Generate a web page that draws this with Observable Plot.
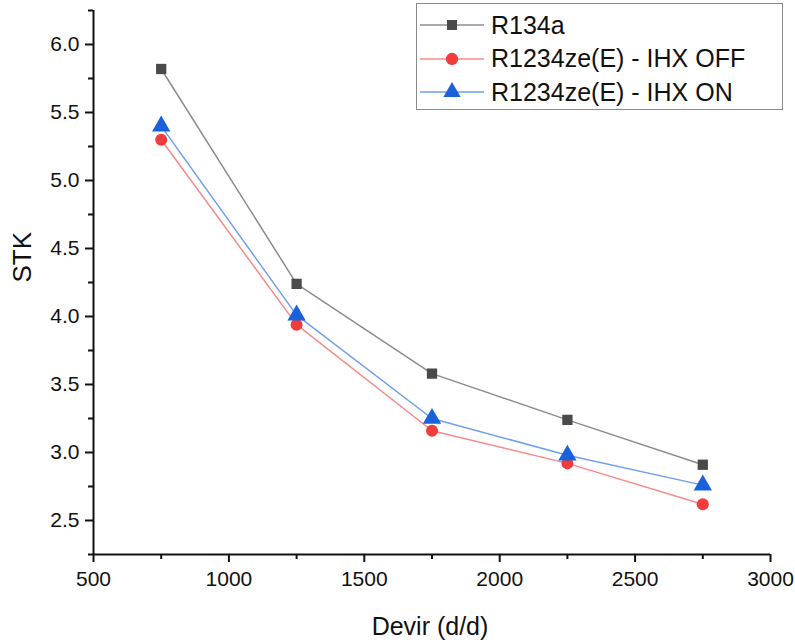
<!DOCTYPE html>
<html>
<head>
<meta charset="utf-8">
<script src="https://cdn.jsdelivr.net/npm/d3@7"></script>
<script src="https://cdn.jsdelivr.net/npm/@observablehq/plot@0.6"></script>
<style>
  html, body { margin: 0; padding: 0; background: #fff; }
  #wrap { position: relative; width: 795px; height: 643px; font-family: "Liberation Sans", Arial, sans-serif; }
  #legend { position: absolute; left: 416px; top: 3px; width: 367px; height: 107px; border: 1.5px solid #8a8a8a; background: #fff; box-sizing: border-box; }
  .row { position: absolute; left: 0; height: 30px; display: flex; align-items: center; font-size: 25px; color: #111; white-space: nowrap; }
  .row svg { margin-right: 3px; }
</style>
</head>
<body>
<div id="wrap"></div>
<script>
const rpm = [750, 1250, 1750, 2250, 2750];
const r134a = [5.82, 4.24, 3.58, 3.24, 2.91];
const ihxOff = [5.30, 3.94, 3.16, 2.92, 2.62];
const ihxOn = [5.40, 4.01, 3.25, 2.98, 2.76];
const seriesNames = ["R134a", "R1234ze(E) - IHX OFF", "R1234ze(E) - IHX ON"];
const xTicks = [500, 1000, 1500, 2000, 2500, 3000];
const xMinor = [750, 1250, 1750, 2250, 2750];
const yTicks = [2.5, 3.0, 3.5, 4.0, 4.5, 5.0, 5.5, 6.0];
const yMinor = [2.25, 2.75, 3.25, 3.75, 4.25, 4.75, 5.25, 5.75, 6.25];
const xTitle = "Devir (d/d)";
const yTitle = "STK";

const styles = [
  {line: "#8c8c8c", fill: "#4a4a4a", symbol: "square", r: 5.8},
  {line: "#f78a8a", fill: "#f23c3c", symbol: "circle", r: 6},
  {line: "#6f9ff0", fill: "#1a62dc", symbol: "triangle", r: 6.8}
];

const allValues = [r134a, ihxOff, ihxOn];
const data = [];
allValues.forEach((vals, i) => vals.forEach((v, j) => data.push({series: seriesNames[i], idx: i, x: rpm[j], y: v})));

const chart = Plot.plot({
  width: 795,
  height: 643,
  marginLeft: 93,
  marginRight: 25,
  marginTop: 10,
  marginBottom: 89,
  style: {fontFamily: "'Liberation Sans', Arial, sans-serif", fontSize: "21px", color: "#111", background: "#fff", overflow: "visible"},
  x: {domain: [500, 3000]},
  y: {domain: [2.25, 6.25]},
  marks: [
    Plot.axisX(xTicks, {tickSize: 8, tickPadding: 9, strokeWidth: 2, stroke: "#111", label: null, fontSize: 21, tickFormat: d => String(d)}),
    Plot.axisX(xMinor, {tickSize: 5, strokeWidth: 2, stroke: "#111", tickFormat: () => "", label: null}),
    Plot.axisY(yTicks, {tickSize: 8, tickPadding: 6, strokeWidth: 2, stroke: "#111", label: null, fontSize: 21, tickFormat: d3.format(".1f")}),
    Plot.axisY(yMinor, {tickSize: 5, strokeWidth: 2, stroke: "#111", tickFormat: () => "", label: null}),
    Plot.ruleY([2.25], {stroke: "#111", strokeWidth: 2}),
    Plot.ruleX([500], {stroke: "#111", strokeWidth: 2}),
    Plot.text([xTitle], {text: d => d, frameAnchor: "bottom", lineAnchor: "bottom", dy: 80, dx: -2, fontSize: 25, fill: "#111"}),
    Plot.text([yTitle], {text: d => d, frameAnchor: "left", rotate: -90, dx: -71, fontSize: 26, fill: "#111"}),
    ...styles.map((s, i) => Plot.line(data.filter(d => d.idx === i), {x: "x", y: "y", stroke: s.line, strokeWidth: 1.5})),
    ...styles.map((s, i) => Plot.dot(data.filter(d => d.idx === i), {x: "x", y: "y", fill: s.fill, symbol: s.symbol, r: s.r, stroke: "none"}))
  ]
});
document.getElementById("wrap").appendChild(chart);

// legend
const legend = d3.select("#wrap").append("div").attr("id", "legend");
const symbolPaths = {
  square: d3.symbol(d3.symbolSquare, 100)(),
  circle: d3.symbol(d3.symbolCircle, 120)(),
  triangle: d3.symbol(d3.symbolTriangle, 130)()
};
seriesNames.forEach((name, i) => {
  const s = styles[i];
  const row = legend.append("div").attr("class", "row").style("top", (6 + i * 33.5) + "px");
  const svg = row.append("svg").attr("width", 71).attr("height", 30);
  svg.append("line").attr("x1", 3).attr("x2", 67).attr("y1", 15).attr("y2", 15).attr("stroke", s.line).attr("stroke-width", 1.5);
  svg.append("path").attr("d", symbolPaths[s.symbol]).attr("transform", "translate(35,15)").attr("fill", s.fill);
  row.append("span").text(name);
});
</script>
</body>
</html>
